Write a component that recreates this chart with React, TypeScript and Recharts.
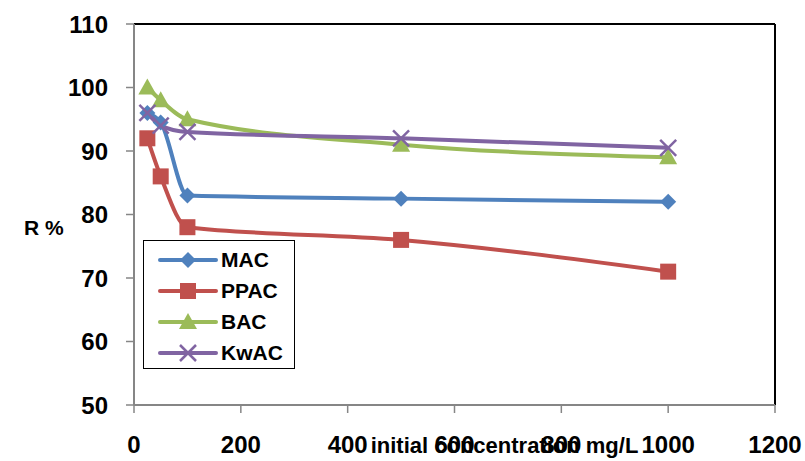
import React from 'react';
import { LineChart, Line, XAxis, YAxis, Legend, ReferenceLine } from 'recharts';

const concentrations = [25, 50, 100, 500, 1000];
const macValues = [96, 94.5, 83, 82.5, 82];
const ppacValues = [92, 86, 78, 76, 71];
const bacValues = [100, 98, 95, 91, 89];
const kwacValues = [96, 94, 93, 92, 90.5];

const seriesNames = ['MAC', 'PPAC', 'BAC', 'KwAC'];
const xTicks = [0, 200, 400, 600, 800, 1000, 1200];
const yTicks = [50, 60, 70, 80, 90, 100, 110];

const data = concentrations.map((x, i) => ({
  x,
  MAC: macValues[i],
  PPAC: ppacValues[i],
  BAC: bacValues[i],
  KwAC: kwacValues[i],
}));

const FONT = '"Liberation Sans", Arial, sans-serif';
const COLORS: Record<string, string> = {
  MAC: '#4F81BD',
  PPAC: '#C0504D',
  BAC: '#9BBB59',
  KwAC: '#8064A2',
};

const Marker = ({ name, cx, cy }: { name: string; cx: number; cy: number }) => {
  const c = COLORS[name];
  if (name === 'MAC') {
    return <polygon points={`${cx},${cy - 8} ${cx + 8},${cy} ${cx},${cy + 8} ${cx - 8},${cy}`} fill={c} />;
  }
  if (name === 'PPAC') {
    return <rect x={cx - 8} y={cy - 8} width={16} height={16} fill={c} />;
  }
  if (name === 'BAC') {
    return <polygon points={`${cx},${cy - 9} ${cx + 9},${cy + 7} ${cx - 9},${cy + 7}`} fill={c} />;
  }
  return (
    <g stroke={c} strokeWidth={2.5}>
      <line x1={cx - 8} y1={cy - 8} x2={cx + 8} y2={cy + 8} />
      <line x1={cx - 8} y1={cy + 8} x2={cx + 8} y2={cy - 8} />
    </g>
  );
};

const makeDot = (name: string) => (props: any) => {
  const { cx, cy, index } = props;
  if (cx == null || cy == null) return <g key={`${name}-${index}`} />;
  return (
    <g key={`${name}-${index}`}>
      <Marker name={name} cx={cx} cy={cy} />
    </g>
  );
};

const renderLegend = (props: any) => {
  const payload = [...(props.payload || [])].sort(
    (a: any, b: any) => seriesNames.indexOf(a.value) - seriesNames.indexOf(b.value)
  );
  return (
    <div
      style={{
        border: '1.5px solid #000',
        background: '#fff',
        width: 150,
        height: 124,
        paddingTop: 3,
        boxSizing: 'content-box',
        fontFamily: FONT,
      }}
    >
      {payload.map((entry: any) => (
        <div key={entry.value} style={{ display: 'flex', alignItems: 'center', height: 31 }}>
          <svg width={76} height={22} style={{ flex: 'none' }}>
            <line x1={16} y1={11} x2={72} y2={11} stroke={COLORS[entry.value]} strokeWidth={4} strokeLinecap="round" />
            <Marker name={entry.value} cx={44} cy={11} />
          </svg>
          <span style={{ fontSize: 21, fontWeight: 'bold', color: '#000', marginLeft: 1 }}>{entry.value}</span>
        </div>
      ))}
    </div>
  );
};

const tickStyle = { fill: '#000', fontSize: 24, fontWeight: 'bold', fontFamily: FONT };

export default function App() {
  return (
    <div style={{ position: 'absolute', left: 0, top: 0, background: '#fff' }}>
      <style>{'body{margin:0}'}</style>
      <LineChart width={805} height={461} data={data} margin={{ top: 24, right: 30, left: 0, bottom: 0 }}>
        <XAxis
          type="number"
          dataKey="x"
          domain={[0, 1200]}
          ticks={xTicks}
          height={56}
          tickSize={8}
          tickMargin={23}
          tick={tickStyle}
          axisLine={{ stroke: '#868686', strokeWidth: 2 }}
          tickLine={{ stroke: '#868686', strokeWidth: 1.5 }}
          label={{
            value: 'initial concentration mg/L',
            position: 'insideBottom',
            offset: 8,
            dx: 50,
            style: { fill: '#000', fontSize: 22, fontWeight: 'bold', fontFamily: FONT },
          }}
        />
        <YAxis
          type="number"
          domain={[50, 110]}
          ticks={yTicks}
          width={134}
          tickSize={8}
          tickMargin={18}
          tick={tickStyle}
          axisLine={{ stroke: '#868686', strokeWidth: 2 }}
          tickLine={{ stroke: '#868686', strokeWidth: 1.5 }}
          label={{
            value: 'R %',
            position: 'insideLeft',
            offset: 24,
            dy: 13,
            style: { fill: '#000', fontSize: 21, fontWeight: 'bold', fontFamily: FONT, textAnchor: 'start' },
          }}
        />
        <ReferenceLine y={110} stroke="#000" strokeWidth={2} />
        <ReferenceLine x={1200} stroke="#000" strokeWidth={2} />
        {seriesNames.map((name) => (
          <Line
            key={name}
            type="monotone"
            dataKey={name}
            stroke={COLORS[name]}
            strokeWidth={4}
            dot={makeDot(name)}
            activeDot={false}
            isAnimationActive={false}
          />
        ))}
        <Legend
          layout="vertical"
          align="center"
          verticalAlign="middle"
          content={renderLegend}
          wrapperStyle={{ left: 143, top: 240, width: 153, height: 128 }}
        />
      </LineChart>
    </div>
  );
}
